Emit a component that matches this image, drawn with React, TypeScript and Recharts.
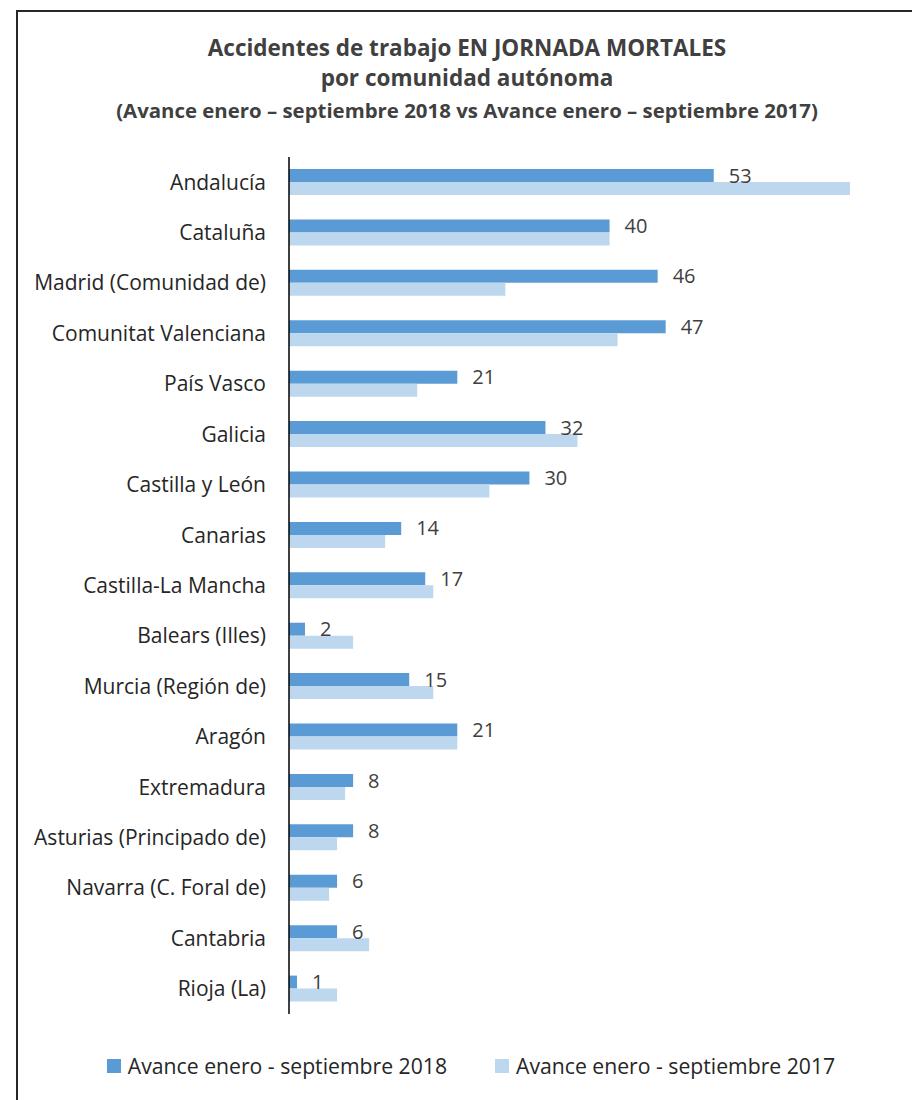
import React from 'react';
import { BarChart, Bar, XAxis, YAxis, LabelList } from 'recharts';

const categories = [
  'Andalucía',
  'Cataluña',
  'Madrid (Comunidad de)',
  'Comunitat Valenciana',
  'País Vasco',
  'Galicia',
  'Castilla y León',
  'Canarias',
  'Castilla-La Mancha',
  'Balears (Illes)',
  'Murcia (Región de)',
  'Aragón',
  'Extremadura',
  'Asturias (Principado de)',
  'Navarra (C. Foral de)',
  'Cantabria',
  'Rioja (La)',
];
const values2018 = [53, 40, 46, 47, 21, 32, 30, 14, 17, 2, 15, 21, 8, 8, 6, 6, 1];
const values2017 = [70, 40, 27, 41, 16, 36, 25, 12, 18, 8, 18, 21, 7, 6, 5, 10, 6];

const series2018 = 'Avance enero - septiembre 2018';
const series2017 = 'Avance enero - septiembre 2017';
const color2018 = '#5B9BD5';
const color2017 = '#BDD7EE';

const FONT = '"Open Sans", Lato, sans-serif';

const data = categories.map((name, i) => ({
  name,
  v2018: values2018[i],
  v2017: values2017[i],
}));

export default function App() {
  return (
    <div
      style={{
        position: 'absolute',
        left: 16,
        top: 10,
        width: 920,
        height: 1110,
        border: '2px solid #262626',
        background: '#fff',
        fontFamily: FONT,
      }}
    >
      {/* title */}
      <div
        style={{
          position: 'absolute',
          left: 0,
          top: 21,
          width: 898,
          textAlign: 'center',
          fontWeight: 700,
          color: '#404040',
        }}
      >
        <div style={{ fontSize: 22.5, lineHeight: '30px' }}>Accidentes de trabajo EN JORNADA MORTALES</div>
        <div style={{ fontSize: 22.5, lineHeight: '30px' }}>por comunidad autónoma</div>
        <div style={{ fontSize: 20.4, lineHeight: '34px' }}>
          (Avance enero – septiembre 2018 vs Avance enero – septiembre 2017)
        </div>
      </div>

      <div style={{ position: 'absolute', left: 0, top: 0 }}>
        <BarChart
          width={880}
          height={1088}
          data={data}
          layout="vertical"
          barSize={13}
          barGap={0}
          margin={{ top: 145, right: 48, bottom: 86, left: 0 }}
        >
          <XAxis type="number" domain={[0, 70]} hide />
          <YAxis
            type="category"
            dataKey="name"
            width={271}
            interval={0}
            tickLine={false}
            tickSize={0}
            tickMargin={23}
            axisLine={{ stroke: '#000', strokeWidth: 1.5 }}
            tick={{ fill: '#262626', fontSize: 21, fontFamily: FONT }}
          />
          <Bar dataKey="v2018" name={series2018} fill={color2018} isAnimationActive={false}>
            <LabelList
              dataKey="v2018"
              position="right"
              offset={15}
              fill="#404040"
              fontSize={20}
              fontFamily={FONT}
            />
          </Bar>
          <Bar dataKey="v2017" name={series2017} fill={color2017} isAnimationActive={false} />
        </BarChart>
      </div>

      {/* legend */}
      <div
        style={{
          position: 'absolute',
          left: 0,
          top: 1039,
          width: 906,
          display: 'flex',
          justifyContent: 'center',
          gap: 48,
          fontSize: 21.2,
          color: '#262626',
        }}
      >
        {[
          { label: series2018, color: color2018 },
          { label: series2017, color: color2017 },
        ].map((it) => (
          <div key={it.label} style={{ display: 'flex', alignItems: 'center' }}>
            <span style={{ width: 14, height: 14, background: it.color, marginRight: 7 }} />
            <span>{it.label}</span>
          </div>
        ))}
      </div>
    </div>
  );
}
